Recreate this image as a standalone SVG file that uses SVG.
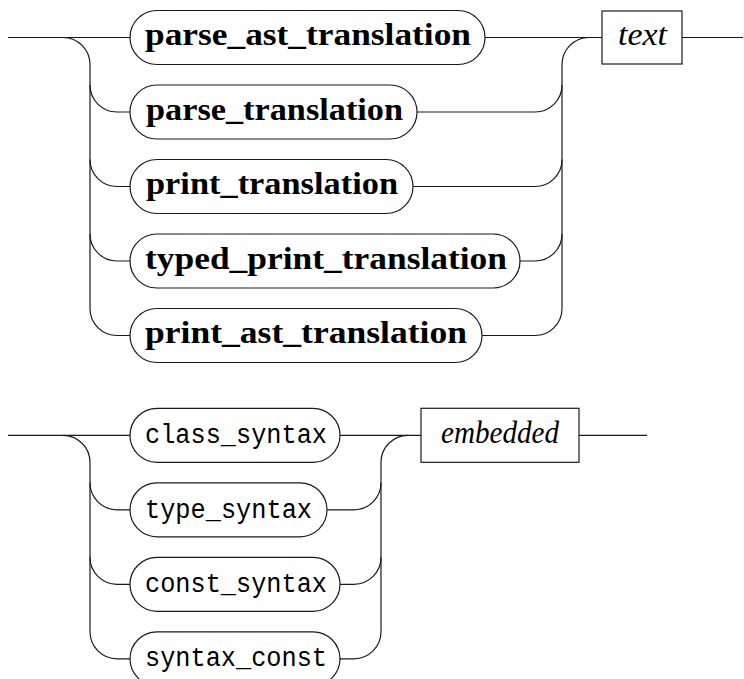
<svg xmlns="http://www.w3.org/2000/svg" width="744" height="679" viewBox="0 0 744 679">
<style>
.ln{fill:none;stroke:#1a1a1a;stroke-width:1.2}
.bx{fill:#fff;stroke:#1a1a1a;stroke-width:1.2}
</style>
<rect width="744" height="679" fill="#fff"/>
<g id="connectors">
  <path class="ln" d="M8,37.5 H130"/>
  <path class="ln" d="M63,37.5 A27,27 0 0 1 90,64.5 V308.5"/>
  <path class="ln" d="M90,85 A27,27 0 0 0 117,112 H130"/>
  <path class="ln" d="M90,159.5 A27,27 0 0 0 117,186.5 H130"/>
  <path class="ln" d="M90,234 A27,27 0 0 0 117,261 H130"/>
  <path class="ln" d="M90,308.5 A27,27 0 0 0 117,335.5 H130"/>
  <path class="ln" d="M485,37.5 H602"/>
  <path class="ln" d="M589,37.5 A27,27 0 0 0 562,64.5 V308.5"/>
  <path class="ln" d="M417,112 H535 A27,27 0 0 0 562,85"/>
  <path class="ln" d="M413,186.5 H535 A27,27 0 0 0 562,159.5"/>
  <path class="ln" d="M520,261 H535 A27,27 0 0 0 562,234"/>
  <path class="ln" d="M482,335.5 H535 A27,27 0 0 0 562,308.5"/>
  <path class="ln" d="M682,37.5 H743"/>
  <path class="ln" d="M8,435.3 H130"/>
  <path class="ln" d="M63,435.3 A27,27 0 0 1 90,462.3 V631.8"/>
  <path class="ln" d="M90,482.8 A27,27 0 0 0 117,509.8 H130"/>
  <path class="ln" d="M90,557.3 A27,27 0 0 0 117,584.3 H130"/>
  <path class="ln" d="M90,631.8 A27,27 0 0 0 117,658.8 H130"/>
  <path class="ln" d="M340,435.3 H421"/>
  <path class="ln" d="M408,435.3 A27,27 0 0 0 381,462.3 V631.8"/>
  <path class="ln" d="M327,509.8 H354 A27,27 0 0 0 381,482.8"/>
  <path class="ln" d="M340,584.3 H354 A27,27 0 0 0 381,557.3"/>
  <path class="ln" d="M340,658.8 H354 A27,27 0 0 0 381,631.8"/>
  <path class="ln" d="M579,435.3 H647"/>
</g>
<g font-family="Liberation Serif, DejaVu Serif, serif" font-weight="bold" font-size="31" fill="#000">
<g id="n_parse_ast_translation">
  <rect class="bx" x="130" y="10.5" width="355" height="54" rx="27"/>
  <text x="145" y="45" textLength="326" lengthAdjust="spacingAndGlyphs">parse_ast_translation</text>
</g>
<g id="n_parse_translation">
  <rect class="bx" x="130" y="85" width="287" height="54" rx="27"/>
  <text x="146" y="119.5" textLength="257" lengthAdjust="spacingAndGlyphs">parse_translation</text>
</g>
<g id="n_print_translation">
  <rect class="bx" x="130" y="159.5" width="283" height="54" rx="27"/>
  <text x="146" y="194" textLength="252" lengthAdjust="spacingAndGlyphs">print_translation</text>
</g>
<g id="n_typed_print_translation">
  <rect class="bx" x="130" y="234" width="390" height="54" rx="27"/>
  <text x="145" y="268.5" textLength="362" lengthAdjust="spacingAndGlyphs">typed_print_translation</text>
</g>
<g id="n_print_ast_translation">
  <rect class="bx" x="130" y="308.5" width="352" height="54" rx="27"/>
  <text x="145" y="343" textLength="322" lengthAdjust="spacingAndGlyphs">print_ast_translation</text>
</g>
</g>
<g font-family="Liberation Serif, DejaVu Serif, serif" font-style="italic" font-size="31" fill="#000">
<g id="n_text">
  <rect class="bx" x="602" y="11" width="80" height="53"/>
  <text x="618" y="45" textLength="49" lengthAdjust="spacingAndGlyphs">text</text>
</g>
<g id="n_embedded">
  <rect class="bx" x="421" y="408.3" width="158" height="54"/>
  <text x="441" y="443.3" textLength="118" lengthAdjust="spacingAndGlyphs">embedded</text>
</g>
</g>
<g font-family="Liberation Mono, Courier New, monospace" font-size="27" fill="#000">
<g id="n_class_syntax">
  <rect class="bx" x="130" y="408.3" width="210" height="54" rx="27"/>
  <text x="145" y="443.3" textLength="182" lengthAdjust="spacingAndGlyphs">class_syntax</text>
</g>
<g id="n_type_syntax">
  <rect class="bx" x="130" y="482.8" width="197" height="54" rx="27"/>
  <text x="145" y="517.8" textLength="167" lengthAdjust="spacingAndGlyphs">type_syntax</text>
</g>
<g id="n_const_syntax">
  <rect class="bx" x="130" y="557.3" width="210" height="54" rx="27"/>
  <text x="145" y="592.3" textLength="182" lengthAdjust="spacingAndGlyphs">const_syntax</text>
</g>
<g id="n_syntax_const">
  <rect class="bx" x="130" y="631.8" width="210" height="54" rx="27"/>
  <text x="145" y="666.3" textLength="182" lengthAdjust="spacingAndGlyphs">syntax_const</text>
</g>
</g>
</svg>
